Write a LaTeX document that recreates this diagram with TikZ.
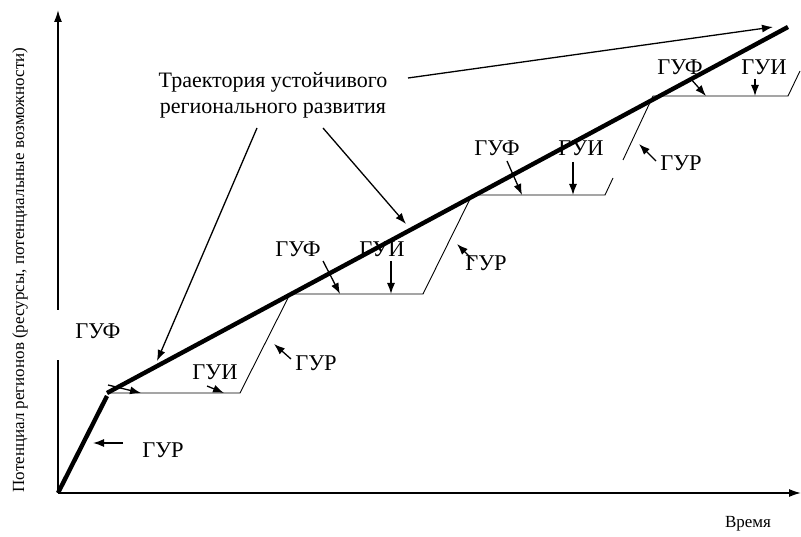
\documentclass[tikz,border=0pt]{standalone}
\usepackage{fontspec}
\setmainfont{Liberation Serif}
\usetikzlibrary{arrows.meta}
\begin{document}
\begin{tikzpicture}[x=1pt,y=-1pt,
  lbl/.style={font=\fontsize{22.5}{24}\selectfont, inner sep=0pt},
  axlbl/.style={font=\fontsize{17}{19}\selectfont, inner sep=0pt},
  ptr/.style={line width=1.3pt,-{Latex[length=11pt,width=8pt]}},
  axis/.style={line width=1.6pt},
  traj/.style={line width=4.4pt},
  stair/.style={line width=0.9pt}]
\useasboundingbox (0,0) rectangle (801,537);
% coordinates
\coordinate (O) at (58,493);
\coordinate (Yb) at (58,360);
\coordinate (Yt0) at (58,310);
\coordinate (Ytop) at (58,10);
\coordinate (Xend) at (801,493);
\coordinate (A) at (107,396);
\coordinate (T0) at (107,393);
\coordinate (T1) at (788,27);
\coordinate (S1) at (240,393);
\coordinate (S2) at (290,294);
\coordinate (S3) at (423,294);
\coordinate (S4) at (472,195);
\coordinate (S5) at (605,195);
\coordinate (S6) at (613,178);
\coordinate (S7) at (623,160);
\coordinate (S8) at (653,96);
\coordinate (S9) at (788,96);
\coordinate (S10) at (800,71);
% axes
\draw[axis] (O) -- (Yb);
\draw[axis,-{Latex[length=12pt,width=8pt]}] (Yt0) -- (Ytop);
\draw[axis,-{Latex[length=12pt,width=8pt]}] (O) -- (Xend);
% thick lines
\draw[traj] (O) -- (A);
\draw[traj] (T0) -- (T1);
% staircase
\draw[stair] (T0) -- (S1) -- (S2) -- (S3) -- (S4) -- (S5) -- (S6);
\draw[stair] (S7) -- (S8) -- (S9) -- (S10);
% labels
\node[axlbl, rotate=90] (ylab) at (20,270) {Потенциал регионов (ресурсы, потенциальные возможности)};
\node[axlbl] (xlab) at (748,524) {Время};
\node[lbl, align=center, font=\fontsize{22}{26}\selectfont] (traj) at (273,95) {Траектория устойчивого\\регионального развития};
\node[lbl] (r0) at (163,450) {ГУР};
\node[lbl] (f0) at (98,331) {ГУФ};
\node[lbl] (i0) at (215,372) {ГУИ};
\node[lbl] (r1) at (316,363) {ГУР};
\node[lbl] (f1) at (298,249) {ГУФ};
\node[lbl] (i1) at (382,249) {ГУИ};
\node[lbl] (r2) at (486,263) {ГУР};
\node[lbl] (f2) at (497,148) {ГУФ};
\node[lbl] (i2) at (581,148) {ГУИ};
\node[lbl] (r3) at (681,163) {ГУР};
\node[lbl] (f3) at (680,67) {ГУФ};
\node[lbl] (i3) at (764,67) {ГУИ};
% small arrows
\coordinate (ar0a) at (123,443); \coordinate (ar0b) at (93,443);
\coordinate (af0a) at (108,385); \coordinate (af0b) at (141,393);
\coordinate (ai0a) at (207,386); \coordinate (ai0b) at (224,393);
\coordinate (ar1a) at (291,359); \coordinate (ar1b) at (274,344);
\coordinate (af1a) at (323,261); \coordinate (af1b) at (340,294);
\coordinate (ai1a) at (391,261); \coordinate (ai1b) at (391,294);
\coordinate (ar2a) at (474,261); \coordinate (ar2b) at (457,244);
\coordinate (af2a) at (507,161); \coordinate (af2b) at (522,195);
\coordinate (ai2a) at (573,162); \coordinate (ai2b) at (573,195);
\coordinate (ar3a) at (656,161); \coordinate (ar3b) at (639,144);
\coordinate (af3a) at (690,78); \coordinate (af3b) at (706,96);
\coordinate (ai3a) at (755,79); \coordinate (ai3b) at (755,96);
\draw[ptr] (ar0a) -- (ar0b);
\draw[ptr] (af0a) -- (af0b);
\draw[ptr] (ai0a) -- (ai0b);
\draw[ptr] (ar1a) -- (ar1b);
\draw[ptr] (af1a) -- (af1b);
\draw[ptr] (ai1a) -- (ai1b);
\draw[ptr] (ar2a) -- (ar2b);
\draw[ptr] (af2a) -- (af2b);
\draw[ptr] (ai2a) -- (ai2b);
\draw[ptr] (ar3a) -- (ar3b);
\draw[ptr] (af3a) -- (af3b);
\draw[ptr] (ai3a) -- (ai3b);
% pointers from trajectory label
\coordinate (p1a) at (257,128); \coordinate (p1b) at (157,361);
\coordinate (p2a) at (323,128); \coordinate (p2b) at (406,224);
\coordinate (p3a) at (408,78); \coordinate (p3b) at (773,27);
\draw[ptr] (p1a) -- (p1b);
\draw[ptr] (p2a) -- (p2b);
\draw[ptr] (p3a) -- (p3b);
\end{tikzpicture}
\end{document}
